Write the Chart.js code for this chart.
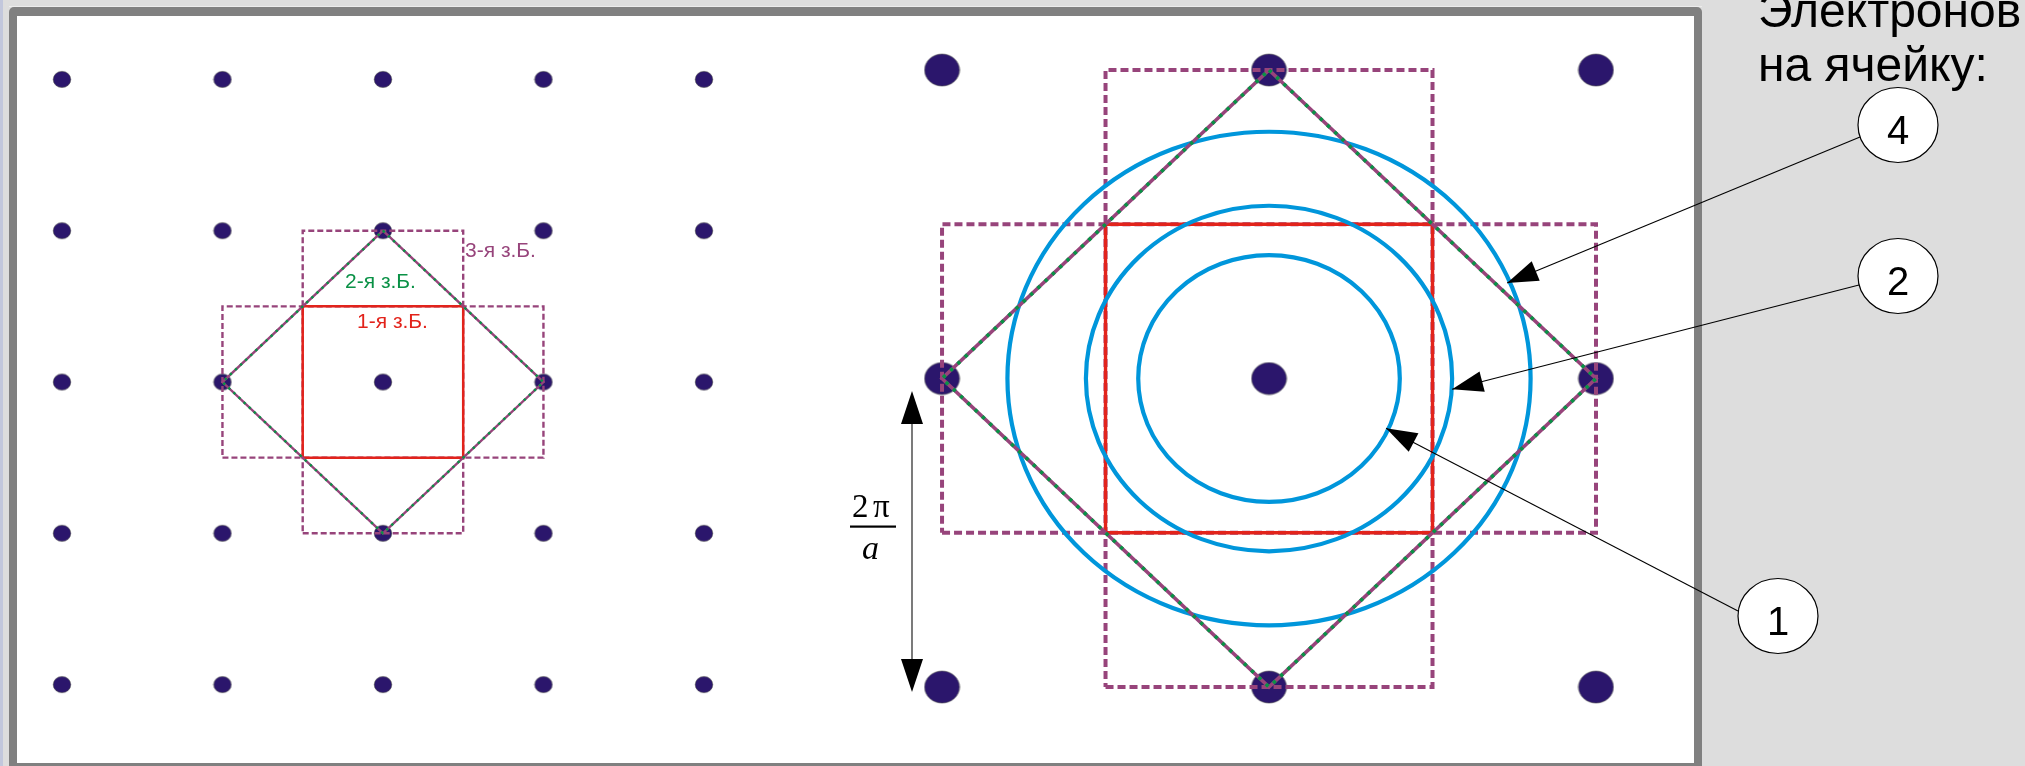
<!DOCTYPE html>
<html>
<head>
<meta charset="utf-8">
<script src="https://cdn.jsdelivr.net/npm/chart.js@4.4.1/dist/chart.umd.min.js"></script>
<style>
  html, body { margin: 0; padding: 0; background: #dddddd; overflow: hidden; }
  canvas { display: block; }
</style>
</head>
<body>
<canvas id="c" width="2025" height="766"></canvas>
<script>
// Reciprocal lattice of a square crystal, in units of 2π/a
const wideLatticeX = [-2, -1, 0, 1, 2];
const wideLatticeY = [-2, -1, 0, 1, 2];
const closeLatticeX = [-1, 0, 1];
const closeLatticeY = [-1, 0, 1];

// Brillouin zone outlines
const zone1X = [-0.5, 0.5, 0.5, -0.5, -0.5];
const zone1Y = [-0.5, -0.5, 0.5, 0.5, -0.5];
const zone2X = [0, 1, 0, -1, 0];
const zone2Y = [1, 0, -1, 0, 1];
const zone3WideX = [-1, 1, 1, -1, -1];
const zone3WideY = [-0.5, -0.5, 0.5, 0.5, -0.5];
const zone3TallX = [-0.5, 0.5, 0.5, -0.5, -0.5];
const zone3TallY = [-1, -1, 1, 1, -1];

// Fermi circles: electrons per cell and circle radius
const electronsPerCell = [1, 2, 4];
const fermiRadius = [0.40, 0.56, 0.80];
// where each callout arrow touches its circle
const pointerX = [0.358, 0.560, 0.728];
const pointerY = [-0.161, -0.035, 0.310];

const zoneLabels = ['1-я з.Б.', '2-я з.Б.', '3-я з.Б.'];
const titleLines = ['Электронов', 'на ячейку:'];

const PURPLE = '#97447b';
const GREEN = '#0a9146';
const RED = '#e2231b';
const BLUE = '#0096db';
const DOT = '#2b166c';

function pts(xs, ys) { return xs.map((x, i) => ({ x, y: ys[i] })); }
function grid(xs, ys) { return ys.flatMap(y => xs.map(x => ({ x, y }))); }

function dotSprite(rx, ry) {
  const c = document.createElement('canvas');
  c.width = Math.ceil(rx * 2 + 2);
  c.height = Math.ceil(ry * 2 + 2);
  const g = c.getContext('2d');
  g.beginPath();
  g.ellipse(c.width / 2, c.height / 2, rx, ry, 0, 0, Math.PI * 2);
  g.fillStyle = DOT;
  g.fill();
  g.lineWidth = 0.8;
  g.strokeStyle = 'rgba(70,70,70,0.7)';
  g.stroke();
  return c;
}

function outline(id, xs, ys, axes, color, width, dash, order) {
  return {
    label: id, data: pts(xs, ys), xAxisID: axes[0], yAxisID: axes[1],
    showLine: true, pointRadius: 0, borderColor: color, borderWidth: width,
    borderDash: dash, fill: false, tension: 0, order,
    borderJoinStyle: 'miter', borderCapStyle: 'butt'
  };
}

const L = ['xL', 'yL'], R = ['xR', 'yR'];

// higher order is painted first
const datasets = [
  { label: 'dotsL', data: grid(wideLatticeX, wideLatticeY), xAxisID: 'xL', yAxisID: 'yL',
    pointStyle: dotSprite(8.8, 8.1), pointRadius: 9, order: 10 },
  { label: 'dotsR', data: grid(closeLatticeX, closeLatticeY), xAxisID: 'xR', yAxisID: 'yR',
    pointStyle: dotSprite(17.5, 16), pointRadius: 17, order: 10 },

  outline('zone3WideL', zone3WideX, zone3WideY, L, PURPLE, 2.4, [6, 3], 7),
  outline('zone3TallL', zone3TallX, zone3TallY, L, PURPLE, 2.4, [6, 3], 7),
  outline('zone3WideR', zone3WideX, zone3WideY, R, PURPLE, 4, [8, 4], 7),
  outline('zone3TallR', zone3TallX, zone3TallY, R, PURPLE, 4, [8, 4], 7),

  outline('zone1L', zone1X, zone1Y, L, RED, 2.5, [], 5),
  outline('zone1R', zone1X, zone1Y, R, RED, 3.4, [], 5),

  outline('zone2L', zone2X, zone2Y, L, PURPLE, 2.4, [], 4),
  outline('zone2Lg', zone2X, zone2Y, L, GREEN, 2.4, [2.5, 4.5], 3),
  outline('zone2R', zone2X, zone2Y, R, PURPLE, 3.6, [], 4),
  outline('zone2Rg', zone2X, zone2Y, R, GREEN, 3.6, [3.5, 6.5], 3)
];

// Page backdrop and framed white panel
const panelPlugin = {
  id: 'panel',
  beforeDraw(chart) {
    const ctx = chart.ctx;
    ctx.save();
    ctx.fillStyle = '#dddddd';
    ctx.fillRect(0, 0, chart.width, chart.height);
    ctx.fillStyle = '#c2c7dc';
    ctx.fillRect(0, 0, 3, chart.height);
    ctx.fillStyle = '#ececec';
    ctx.fillRect(9, 6, 1693, 1);
    ctx.fillStyle = '#808080';
    ctx.beginPath();
    ctx.roundRect(9, 7, 1693, 800, 5);
    ctx.fill();
    ctx.fillStyle = '#ffffff';
    ctx.fillRect(17, 16, 1677, 747);
    ctx.restore();
  }
};

// Fermi circles, drawn right above the first zone square
const fermiPlugin = {
  id: 'fermi',
  afterDatasetDraw(chart, args) {
    if (chart.data.datasets[args.index].label !== 'zone1R') return;
    const ctx = chart.ctx, xs = chart.scales.xR, ys = chart.scales.yR;
    const cx = xs.getPixelForValue(0), cy = ys.getPixelForValue(0);
    ctx.save();
    ctx.strokeStyle = BLUE;
    ctx.lineWidth = 4.2;
    fermiRadius.forEach(r => {
      const rx = xs.getPixelForValue(r) - cx;
      const ry = cy - ys.getPixelForValue(r);
      ctx.beginPath();
      ctx.ellipse(cx, cy, rx, ry, 0, 0, Math.PI * 2);
      ctx.stroke();
    });
    ctx.restore();
  }
};

function arrowHead(ctx, fx, fy, tx, ty, len, half) {
  const a = Math.atan2(ty - fy, tx - fx);
  const bx = tx - len * Math.cos(a), by = ty - len * Math.sin(a);
  ctx.beginPath();
  ctx.moveTo(tx, ty);
  ctx.lineTo(bx + half * Math.sin(a), by - half * Math.cos(a));
  ctx.lineTo(bx - half * Math.sin(a), by + half * Math.cos(a));
  ctx.closePath();
  ctx.fill();
}

// Texts, callouts and the period marker
const notesPlugin = {
  id: 'notes',
  afterDatasetsDraw(chart) {
    const ctx = chart.ctx, xs = chart.scales.xR, ys = chart.scales.yR;
    ctx.save();

    // zone names in the small diagram
    ctx.font = '21px "Liberation Sans", Arial, sans-serif';
    ctx.textBaseline = 'alphabetic';
    ctx.textAlign = 'left';
    const zoneText = [[RED, 357, 328], [GREEN, 345, 288], [PURPLE, 465, 257]];
    zoneLabels.forEach((t, i) => {
      ctx.fillStyle = zoneText[i][0];
      ctx.fillText(t, zoneText[i][1], zoneText[i][2]);
    });

    // heading
    ctx.fillStyle = '#000';
    ctx.font = '48px "Liberation Sans", Arial, sans-serif';
    ctx.fillText(titleLines[0], 1758, 27);
    ctx.fillText(titleLines[1], 1758, 81);

    // callouts: badge centre and where the leader leaves the badge
    const badges = [[1778, 616, 1738, 611], [1898, 276, 1859, 285], [1898, 125, 1860, 137]];
    electronsPerCell.forEach((n, i) => {
      const [bx, by, sx, sy] = badges[i];
      const tx = xs.getPixelForValue(pointerX[i]);
      const ty = ys.getPixelForValue(pointerY[i]);
      ctx.strokeStyle = '#000';
      ctx.fillStyle = '#000';
      ctx.lineWidth = 1.1;
      ctx.beginPath();
      ctx.moveTo(sx, sy);
      ctx.lineTo(tx, ty);
      ctx.stroke();
      arrowHead(ctx, sx, sy, tx, ty, 31, 10.5);

      ctx.beginPath();
      ctx.ellipse(bx, by, 40, 37.5, 0, 0, Math.PI * 2);
      ctx.fillStyle = '#ffffff';
      ctx.fill();
      ctx.lineWidth = 1.2;
      ctx.stroke();
      ctx.fillStyle = '#000';
      ctx.font = '40px "Liberation Sans", Arial, sans-serif';
      ctx.textAlign = 'center';
      ctx.fillText(String(n), bx, by + 18.5);
      ctx.textAlign = 'left';
    });

    // period marker 2π/a
    const ax = 912, top = 391, bot = 692;
    ctx.strokeStyle = '#222';
    ctx.fillStyle = '#000';
    ctx.lineWidth = 1.2;
    ctx.beginPath();
    ctx.moveTo(ax, top + 20);
    ctx.lineTo(ax, bot - 20);
    ctx.stroke();
    arrowHead(ctx, ax, bot, ax, top, 33, 11);
    arrowHead(ctx, ax, top, ax, bot, 33, 11);

    ctx.font = '33px "Liberation Serif", "Times New Roman", serif';
    ctx.fillText('2', 852, 517);
    ctx.fillText('π', 873, 517);
    ctx.fillRect(850, 525.5, 46, 2.2);
    ctx.font = 'italic 34px "Liberation Serif", "Times New Roman", serif';
    ctx.fillText('a', 862, 559);

    ctx.restore();
  }
};

new Chart(document.getElementById('c'), {
  type: 'scatter',
  data: { datasets },
  options: {
    responsive: false,
    maintainAspectRatio: false,
    animation: false,
    devicePixelRatio: 1,
    events: [],
    layout: { padding: 0, autoPadding: false },
    plugins: {
      legend: { display: false },
      tooltip: { enabled: false },
      title: { display: false }
    },
    scales: {
      xL: { type: 'linear', axis: 'x', position: 'bottom', display: false, min: -2.386, max: 10.231 },
      yL: { type: 'linear', axis: 'y', position: 'left', display: false, min: -2.538, max: 2.525 },
      xR: { type: 'linear', axis: 'x', position: 'bottom', display: false, min: -3.881, max: 2.312 },
      yR: { type: 'linear', axis: 'y', position: 'left', display: false, min: -1.256, max: 1.227 }
    }
  },
  plugins: [panelPlugin, fermiPlugin, notesPlugin]
});
</script>
</body>
</html>
